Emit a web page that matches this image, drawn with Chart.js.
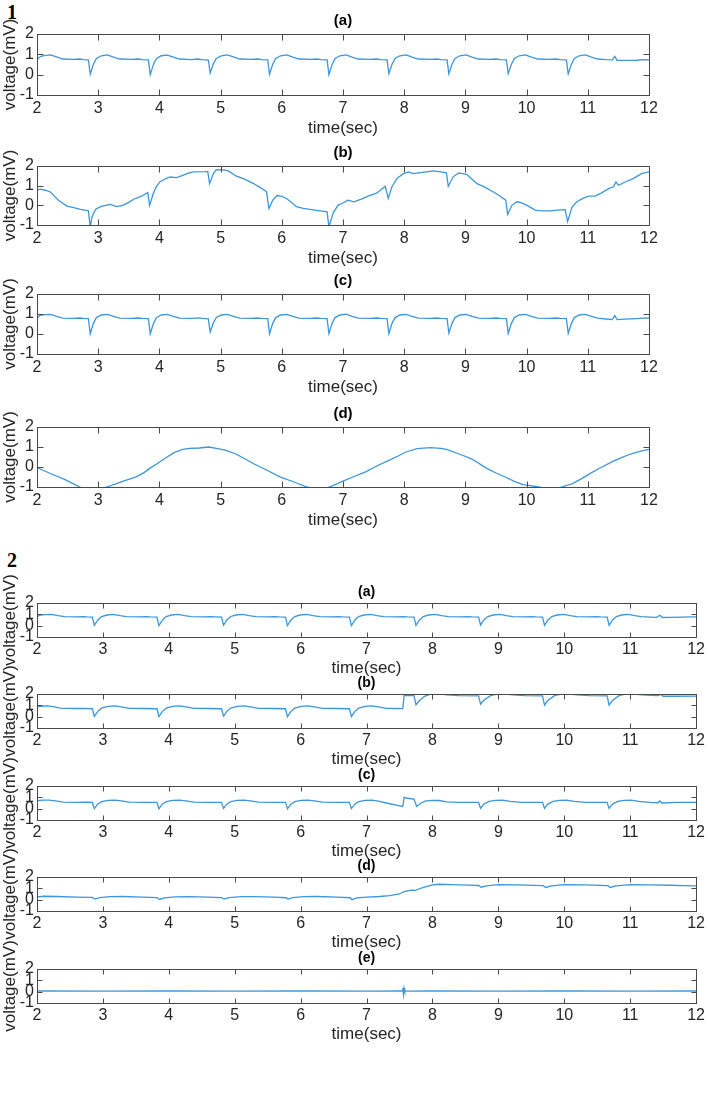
<!DOCTYPE html>
<html>
<head>
<meta charset="utf-8">
<script src="https://cdn.jsdelivr.net/npm/chart.js@4.4.1/dist/chart.umd.min.js"></script>
<style>
  body { margin: 0; background: #fff; width: 708px; height: 1095px; position: relative; overflow: hidden; }
  .figno { position: absolute; left: 7px; font: bold 20px "Liberation Serif", serif; color: #000; }
  canvas { position: absolute; left: 0; }
</style>
</head>
<body>
<div class="figno" style="top:1px">1</div>
<div class="figno" style="top:549px">2</div>
<script>
// axis ticks shared by every panel
const timeTicks = [2, 3, 4, 5, 6, 7, 8, 9, 10, 11, 12];
const voltTicks = [-1, 0, 1, 2];

// ---- figure 1 : [time (sec), voltage (mV)] ----
const ecg1a = [
  [2.00,0.74],[2.06,0.90],[2.14,0.95],[2.22,0.97],[2.32,0.87],[2.42,0.77],[2.60,0.75],[2.70,0.77],[2.76,0.74],[2.84,0.73],
  [2.87,0.02],[2.92,0.50],[2.97,0.80],[3.05,0.93],[3.15,0.97],[3.25,0.86],[3.35,0.77],[3.55,0.75],[3.65,0.77],[3.72,0.74],[3.82,0.73],
  [3.85,0.00],[3.90,0.48],[3.95,0.79],[4.03,0.93],[4.13,0.96],[4.23,0.86],[4.33,0.77],[4.53,0.74],[4.63,0.77],[4.70,0.74],[4.80,0.72],
  [4.83,0.08],[4.88,0.52],[4.93,0.80],[5.01,0.92],[5.11,0.97],[5.21,0.87],[5.31,0.77],[5.50,0.75],[5.60,0.77],[5.67,0.74],[5.77,0.73],
  [5.80,0.02],[5.85,0.50],[5.90,0.80],[5.98,0.93],[6.08,0.97],[6.18,0.86],[6.28,0.77],[6.47,0.75],[6.57,0.77],[6.64,0.74],[6.74,0.73],
  [6.77,0.00],[6.82,0.49],[6.87,0.80],[6.95,0.93],[7.05,0.97],[7.15,0.86],[7.25,0.77],[7.45,0.75],[7.55,0.77],[7.62,0.74],[7.72,0.73],
  [7.75,0.05],[7.80,0.50],[7.85,0.80],[7.93,0.93],[8.03,0.97],[8.13,0.86],[8.23,0.77],[8.43,0.75],[8.53,0.77],[8.60,0.74],[8.70,0.73],
  [8.73,0.04],[8.78,0.50],[8.83,0.80],[8.91,0.93],[9.01,0.97],[9.11,0.86],[9.21,0.77],[9.40,0.75],[9.50,0.77],[9.57,0.74],[9.67,0.73],
  [9.70,0.05],[9.75,0.50],[9.80,0.80],[9.88,0.93],[9.98,0.97],[10.08,0.86],[10.18,0.77],[10.38,0.75],[10.48,0.77],[10.55,0.74],[10.65,0.73],
  [10.68,0.04],[10.73,0.50],[10.78,0.80],[10.86,0.93],[10.96,0.97],[11.06,0.86],[11.16,0.77],[11.30,0.74],[11.40,0.73],[11.44,0.90],[11.48,0.70],
  [11.60,0.70],[11.80,0.71],[11.90,0.74],[12.00,0.73]
];
const ecg1b = [
  [2.00,0.77],[2.05,0.82],[2.12,0.78],[2.22,0.68],[2.35,0.26],[2.49,-0.04],[2.60,-0.12],[2.71,-0.21],[2.84,-0.28],[2.87,-1.10],
  [2.90,-0.58],[2.96,-0.20],[3.03,-0.08],[3.12,0.00],[3.20,0.05],[3.30,-0.06],[3.41,0.01],[3.50,0.15],[3.58,0.31],[3.70,0.45],
  [3.81,0.65],[3.84,0.00],[3.90,0.60],[3.95,0.95],[4.01,1.20],[4.10,1.35],[4.17,1.44],[4.28,1.41],[4.38,1.52],[4.45,1.61],
  [4.55,1.70],[4.74,1.71],[4.79,1.72],[4.82,1.10],[4.88,1.60],[4.93,1.81],[5.05,1.80],[5.12,1.76],[5.26,1.48],[5.40,1.32],
  [5.53,1.12],[5.65,0.90],[5.75,0.70],[5.79,-0.16],[5.85,0.25],[5.92,0.50],[6.00,0.45],[6.08,0.35],[6.24,-0.07],[6.35,-0.15],
  [6.46,-0.21],[6.60,-0.27],[6.74,-0.33],[6.77,-1.10],[6.84,-0.38],[6.92,0.01],[7.00,0.12],[7.08,0.26],[7.18,0.18],[7.30,0.32],
  [7.42,0.48],[7.55,0.62],[7.69,0.97],[7.74,0.35],[7.80,0.95],[7.88,1.36],[7.98,1.60],[8.07,1.70],[8.15,1.61],[8.30,1.68],
  [8.48,1.75],[8.60,1.70],[8.69,1.65],[8.72,0.97],[8.80,1.45],[8.89,1.65],[9.02,1.58],[9.10,1.35],[9.19,1.10],[9.30,0.95],
  [9.46,0.68],[9.55,0.50],[9.66,0.26],[9.69,-0.46],[9.76,0.00],[9.84,0.18],[9.92,0.12],[10.00,0.01],[10.14,-0.24],[10.26,-0.28],
  [10.38,-0.28],[10.50,-0.24],[10.63,-0.22],[10.67,-0.83],[10.74,-0.10],[10.82,0.18],[10.92,0.35],[11.01,0.47],[11.12,0.47],[11.22,0.62],
  [11.34,0.85],[11.42,0.94],[11.46,1.19],[11.50,1.02],[11.62,1.20],[11.74,1.36],[11.88,1.61],[12.00,1.70]
];
const ecg1c = [
  [2.00,0.78],[2.05,0.93],[2.13,0.97],[2.22,0.98],[2.32,0.88],[2.42,0.79],[2.60,0.78],[2.70,0.80],[2.76,0.78],[2.84,0.77],
  [2.87,0.01],[2.92,0.52],[2.97,0.82],[3.05,0.95],[3.15,0.98],[3.25,0.88],[3.35,0.79],[3.55,0.78],[3.65,0.80],[3.72,0.78],[3.82,0.77],
  [3.85,0.01],[3.90,0.50],[3.95,0.82],[4.03,0.95],[4.13,0.98],[4.23,0.88],[4.33,0.79],[4.53,0.78],[4.63,0.81],[4.70,0.78],[4.80,0.76],
  [4.83,0.10],[4.88,0.55],[4.93,0.83],[5.01,0.95],[5.11,0.98],[5.21,0.88],[5.31,0.79],[5.50,0.78],[5.60,0.80],[5.67,0.78],[5.77,0.77],
  [5.80,0.01],[5.85,0.52],[5.90,0.82],[5.98,0.95],[6.08,0.98],[6.18,0.88],[6.28,0.79],[6.47,0.78],[6.57,0.80],[6.64,0.78],[6.74,0.77],
  [6.77,0.02],[6.82,0.52],[6.87,0.82],[6.95,0.95],[7.05,0.99],[7.15,0.88],[7.25,0.79],[7.45,0.78],[7.55,0.80],[7.62,0.78],[7.72,0.77],
  [7.75,0.02],[7.80,0.52],[7.85,0.82],[7.93,0.95],[8.03,0.98],[8.13,0.88],[8.23,0.79],[8.43,0.78],[8.53,0.80],[8.60,0.78],[8.70,0.77],
  [8.73,0.05],[8.78,0.52],[8.83,0.82],[8.91,0.95],[9.01,0.98],[9.11,0.88],[9.21,0.79],[9.40,0.78],[9.50,0.80],[9.57,0.78],[9.67,0.77],
  [9.70,0.03],[9.75,0.52],[9.80,0.82],[9.88,0.95],[9.98,0.98],[10.08,0.88],[10.18,0.79],[10.38,0.78],[10.48,0.80],[10.55,0.78],[10.65,0.77],
  [10.68,0.03],[10.73,0.52],[10.78,0.82],[10.86,0.95],[10.96,0.98],[11.06,0.88],[11.16,0.79],[11.30,0.75],[11.40,0.72],[11.44,0.92],[11.48,0.72],
  [11.60,0.74],[11.80,0.77],[11.90,0.79],[12.00,0.80]
];
const ecg1d = [
  [2.00,-0.03],[2.20,-0.30],[2.45,-0.62],[2.70,-1.00],[2.90,-1.20],[3.14,-1.00],[3.40,-0.72],[3.62,-0.49],[3.75,-0.28],[3.84,-0.07],
  [3.95,0.14],[4.10,0.45],[4.24,0.72],[4.38,0.88],[4.50,0.93],[4.65,0.95],[4.81,1.00],[4.95,0.92],[5.09,0.83],[5.25,0.65],
  [5.38,0.44],[5.55,0.15],[5.75,-0.15],[5.97,-0.49],[6.20,-0.75],[6.41,-1.00],[6.60,-1.15],[6.78,-1.00],[7.00,-0.71],[7.20,-0.45],
  [7.37,-0.24],[7.55,0.05],[7.74,0.32],[7.90,0.55],[8.03,0.75],[8.21,0.92],[8.43,0.97],[8.60,0.93],[8.69,0.88],[8.90,0.65],
  [9.10,0.41],[9.35,-0.07],[9.50,-0.30],[9.65,-0.50],[9.80,-0.72],[9.94,-0.88],[10.20,-1.00],[10.40,-1.15],[10.57,-1.00],[10.75,-0.83],
  [10.90,-0.58],[11.04,-0.32],[11.20,-0.05],[11.41,0.28],[11.55,0.47],[11.70,0.65],[11.85,0.78],[12.00,0.88]
];

// ---- figure 2 ----
const ecg2a = [
  [2.00,0.80],[2.05,0.94],[2.13,0.98],[2.22,0.99],[2.32,0.88],[2.42,0.79],[2.60,0.77],[2.70,0.79],[2.76,0.77],[2.84,0.76],
  [2.87,0.02],[2.92,0.48],[2.98,0.80],[3.06,0.94],[3.16,0.99],[3.26,0.88],[3.36,0.79],[3.55,0.77],[3.65,0.79],[3.72,0.77],[3.82,0.76],
  [3.85,0.00],[3.90,0.47],[3.96,0.80],[4.04,0.94],[4.14,0.99],[4.24,0.88],[4.34,0.79],[4.53,0.77],[4.63,0.79],[4.70,0.77],[4.80,0.75],
  [4.83,0.05],[4.88,0.50],[4.94,0.81],[5.02,0.94],[5.12,0.99],[5.22,0.88],[5.32,0.79],[5.50,0.77],[5.60,0.79],[5.67,0.77],[5.77,0.76],
  [5.80,0.00],[5.85,0.48],[5.91,0.80],[5.99,0.94],[6.09,0.99],[6.19,0.88],[6.29,0.79],[6.47,0.77],[6.57,0.79],[6.64,0.77],[6.74,0.76],
  [6.77,0.00],[6.82,0.48],[6.88,0.80],[6.96,0.94],[7.06,1.00],[7.16,0.88],[7.26,0.79],[7.45,0.77],[7.55,0.79],[7.62,0.77],[7.72,0.76],
  [7.75,0.02],[7.80,0.48],[7.86,0.80],[7.94,0.94],[8.04,0.99],[8.14,0.88],[8.24,0.79],[8.43,0.77],[8.53,0.79],[8.60,0.77],[8.70,0.76],
  [8.73,0.05],[8.78,0.50],[8.84,0.80],[8.92,0.94],[9.02,0.99],[9.12,0.88],[9.22,0.79],[9.40,0.77],[9.50,0.79],[9.57,0.77],[9.67,0.76],
  [9.70,0.02],[9.75,0.48],[9.81,0.80],[9.89,0.94],[9.99,0.99],[10.09,0.88],[10.19,0.79],[10.38,0.77],[10.48,0.79],[10.55,0.77],[10.65,0.76],
  [10.68,0.02],[10.73,0.48],[10.79,0.80],[10.87,0.94],[10.97,0.99],[11.07,0.88],[11.17,0.79],[11.30,0.76],[11.40,0.74],[11.45,0.92],[11.49,0.72],
  [11.60,0.73],[11.80,0.75],[11.90,0.77],[12.00,0.77]
];
const ecg2b = [
  [2.00,0.85],[2.05,0.92],[2.15,0.95],[2.25,0.88],[2.35,0.76],[2.55,0.72],[2.70,0.73],[2.84,0.70],
  [2.87,0.02],[2.92,0.45],[2.98,0.75],[3.08,0.90],[3.18,0.95],[3.28,0.86],[3.40,0.74],[3.60,0.72],[3.82,0.70],
  [3.85,0.00],[3.90,0.45],[3.96,0.75],[4.06,0.90],[4.16,0.95],[4.26,0.86],[4.38,0.74],[4.58,0.72],[4.80,0.70],
  [4.83,0.05],[4.88,0.47],[4.94,0.76],[5.04,0.90],[5.14,0.95],[5.24,0.86],[5.36,0.74],[5.56,0.72],[5.77,0.70],
  [5.80,0.00],[5.85,0.45],[5.91,0.75],[6.01,0.90],[6.11,0.96],[6.21,0.86],[6.33,0.74],[6.53,0.72],[6.74,0.70],
  [6.77,0.00],[6.82,0.45],[6.88,0.75],[6.98,0.90],[7.08,0.95],[7.18,0.86],[7.30,0.74],[7.45,0.72],[7.55,0.71],
  [7.57,1.85],[7.65,1.86],[7.72,1.85],[7.75,1.05],[7.80,1.40],[7.88,1.80],[7.98,2.00],[8.10,2.02],[8.22,1.92],[8.40,1.85],[8.70,1.83],
  [8.73,1.10],[8.78,1.45],[8.88,1.85],[8.98,2.00],[9.10,2.00],[9.22,1.92],[9.40,1.86],[9.67,1.83],
  [9.70,1.02],[9.75,1.42],[9.85,1.85],[9.95,2.00],[10.08,2.00],[10.20,1.92],[10.38,1.86],[10.65,1.83],
  [10.68,1.02],[10.73,1.42],[10.83,1.85],[10.93,2.00],[11.06,2.00],[11.18,1.92],[11.40,1.86],[11.44,1.88],[11.46,2.00],[11.50,1.80],
  [11.70,1.80],[12.00,1.82]
];
const ecg2c = [
  [2.00,0.70],[2.08,0.75],[2.18,0.76],[2.28,0.68],[2.40,0.57],[2.60,0.55],[2.75,0.57],[2.84,0.55],
  [2.87,0.00],[2.92,0.40],[2.98,0.62],[3.08,0.73],[3.18,0.76],[3.28,0.68],[3.40,0.57],[3.60,0.55],[3.82,0.55],
  [3.85,-0.02],[3.90,0.40],[3.96,0.62],[4.06,0.73],[4.16,0.76],[4.26,0.68],[4.38,0.57],[4.58,0.55],[4.80,0.55],
  [4.83,0.02],[4.88,0.40],[4.94,0.62],[5.04,0.73],[5.14,0.76],[5.24,0.68],[5.36,0.57],[5.56,0.56],[5.77,0.55],
  [5.80,-0.02],[5.85,0.38],[5.91,0.62],[6.01,0.73],[6.11,0.76],[6.21,0.68],[6.33,0.58],[6.53,0.56],[6.74,0.55],
  [6.77,0.00],[6.82,0.40],[6.88,0.62],[6.98,0.74],[7.08,0.76],[7.18,0.66],[7.30,0.50],[7.45,0.32],[7.55,0.20],
  [7.57,1.00],[7.62,0.92],[7.72,0.85],[7.76,0.20],[7.82,0.48],[7.90,0.68],[8.00,0.74],[8.10,0.72],[8.22,0.60],[8.40,0.55],[8.70,0.55],
  [8.73,0.02],[8.78,0.40],[8.86,0.64],[8.96,0.74],[9.06,0.76],[9.18,0.64],[9.35,0.56],[9.67,0.55],
  [9.70,0.02],[9.75,0.40],[9.83,0.64],[9.93,0.74],[10.03,0.76],[10.15,0.64],[10.32,0.56],[10.65,0.55],
  [10.68,0.02],[10.73,0.40],[10.81,0.64],[10.91,0.74],[11.01,0.76],[11.13,0.64],[11.30,0.56],[11.42,0.52],[11.45,0.68],[11.48,0.50],
  [11.70,0.55],[12.00,0.56]
];
const ecg2d = [
  [2.00,0.25],[2.10,0.30],[2.30,0.28],[2.60,0.22],[2.84,0.20],[2.88,0.05],[2.95,0.18],[3.10,0.26],[3.30,0.28],[3.60,0.22],
  [3.82,0.18],[3.86,0.02],[3.93,0.16],[4.10,0.25],[4.30,0.27],[4.60,0.22],[4.80,0.18],[4.84,0.05],[4.91,0.18],[5.10,0.26],
  [5.30,0.27],[5.60,0.22],[5.78,0.17],[5.81,0.05],[5.88,0.18],[6.05,0.27],[6.25,0.28],[6.55,0.22],[6.75,0.17],[6.78,0.00],
  [6.85,0.15],[7.00,0.22],[7.20,0.28],[7.35,0.35],[7.50,0.50],[7.57,0.72],[7.68,0.85],[7.74,0.82],[7.78,0.92],[7.88,1.10],
  [8.00,1.30],[8.10,1.36],[8.30,1.33],[8.55,1.28],[8.70,1.25],[8.74,1.10],[8.82,1.22],[9.00,1.32],[9.30,1.30],[9.55,1.26],
  [9.68,1.24],[9.72,1.08],[9.80,1.22],[10.00,1.32],[10.30,1.30],[10.55,1.26],[10.66,1.24],[10.70,1.08],[10.78,1.22],[11.00,1.32],
  [11.30,1.30],[11.60,1.27],[11.80,1.24],[12.00,1.22]
];
const ecg2e = [
  [2.00,0.06],[3.00,0.05],[4.00,0.06],[5.00,0.05],[6.00,0.06],[7.00,0.05],[7.54,0.06],[7.55,0.35],[7.56,-0.25],[7.57,0.30],
  [7.58,0.05],[8.00,0.06],[9.00,0.05],[10.00,0.06],[11.00,0.05],[12.00,0.06]
];

// panel placement (plot box in page pixels)
const panels = [
  { d: ecg1a, t: '(a)', top: 34,  h: 61, right: 649, fig: 1 },
  { d: ecg1b, t: '(b)', top: 166, h: 59, right: 649, fig: 1 },
  { d: ecg1c, t: '(c)', top: 294, h: 60, right: 649, fig: 1 },
  { d: ecg1d, t: '(d)', top: 427, h: 60, right: 649, fig: 1 },
  { d: ecg2a, t: '(a)', top: 603, h: 34, right: 700, fig: 2 },
  { d: ecg2b, t: '(b)', top: 694, h: 34, right: 700, fig: 2 },
  { d: ecg2c, t: '(c)', top: 786, h: 34, right: 700, fig: 2 },
  { d: ecg2d, t: '(d)', top: 877, h: 34, right: 700, fig: 2 },
  { d: ecg2e, t: '(e)', top: 969, h: 34, right: 700, fig: 2 }
];

const PAD = 50;
const FONT = '"Liberation Sans", Arial, sans-serif';

// MATLAB-like box, inward ticks, title and axis labels
const matlabAxes = {
  id: 'matlabAxes',
  afterDraw(chart, args, o) {
    const { ctx, chartArea: a, scales: { x, y } } = chart;
    const L = Math.round(a.left) + 0.5, R = Math.round(a.right) + 0.5;
    const T = Math.round(a.top) + 0.5, B = Math.round(a.bottom) + 0.5;
    ctx.save();
    ctx.strokeStyle = '#4a4a4a';
    ctx.lineWidth = 1;
    ctx.strokeRect(L, T, R - L, B - T);
    ctx.beginPath();
    x.ticks.forEach(tk => {
      const px = Math.round(x.getPixelForValue(tk.value)) + 0.5;
      ctx.moveTo(px, B); ctx.lineTo(px, B - o.tick);
      ctx.moveTo(px, T); ctx.lineTo(px, T + o.tick);
    });
    y.ticks.forEach(tk => {
      const py = Math.round(y.getPixelForValue(tk.value)) + 0.5;
      ctx.moveTo(L, py); ctx.lineTo(L + o.tick, py);
      ctx.moveTo(R, py); ctx.lineTo(R - o.tick, py);
    });
    ctx.stroke();
    const cx = (a.left + a.right) / 2;
    ctx.textAlign = 'center';
    ctx.textBaseline = 'middle';
    ctx.fillStyle = '#000';
    ctx.font = 'bold ' + o.titleSize + 'px ' + FONT;
    ctx.fillText(o.title, cx, a.top - o.titleOff);
    ctx.fillStyle = '#262626';
    ctx.font = o.labSize + 'px ' + FONT;
    ctx.fillText('time(sec)', cx, a.bottom + o.xlabOff);
    ctx.translate(10, (a.top + a.bottom) / 2);
    ctx.rotate(-Math.PI / 2);
    ctx.fillText('voltage(mV)', 0, 0);
    ctx.restore();
  }
};

panels.forEach(p => {
  const cv = document.createElement('canvas');
  cv.width = 708;
  cv.height = p.h + 2 * PAD;
  cv.style.top = (p.top - PAD) + 'px';
  document.body.appendChild(cv);
  const small = p.fig === 2;
  const tickFont = { family: FONT, size: 16 };
  new Chart(cv, {
    type: 'line',
    data: {
      datasets: [{
        data: p.d.map(v => ({ x: v[0], y: v[1] })),
        borderColor: '#3d96db',
        borderWidth: 1.3,
        pointRadius: 0,
        tension: 0,
        fill: false
      }]
    },
    options: {
      responsive: false,
      animation: false,
      devicePixelRatio: 1,
      layout: { padding: { top: PAD, bottom: PAD - 20, left: 0, right: 708 - p.right } },
      plugins: {
        legend: { display: false },
        tooltip: { enabled: false },
        matlabAxes: {
          title: p.t,
          titleSize: small ? 14 : 15, labSize: 17,
          titleOff: small ? 11 : 13, xlabOff: small ? 31 : 33,
          tick: small ? 5 : 6
        }
      },
      scales: {
        x: {
          type: 'linear', min: timeTicks[0], max: timeTicks[timeTicks.length - 1],
          afterBuildTicks: s => { s.ticks = timeTicks.map(v => ({ value: v })); },
          ticks: { color: '#262626', font: tickFont, padding: small ? 3 : 4, maxRotation: 0, autoSkip: false },
          grid: { display: false, drawTicks: false },
          border: { display: false },
          afterFit: s => { s.height = 20; }
        },
        y: {
          min: voltTicks[0], max: voltTicks[voltTicks.length - 1],
          afterBuildTicks: s => { s.ticks = voltTicks.map(v => ({ value: v })); },
          ticks: { color: '#262626', font: tickFont, padding: 3, autoSkip: false },
          grid: { display: false, drawTicks: false },
          border: { display: false },
          afterFit: s => { s.width = 37; }
        }
      }
    },
    plugins: [matlabAxes]
  });
});
</script>
</body>
</html>
